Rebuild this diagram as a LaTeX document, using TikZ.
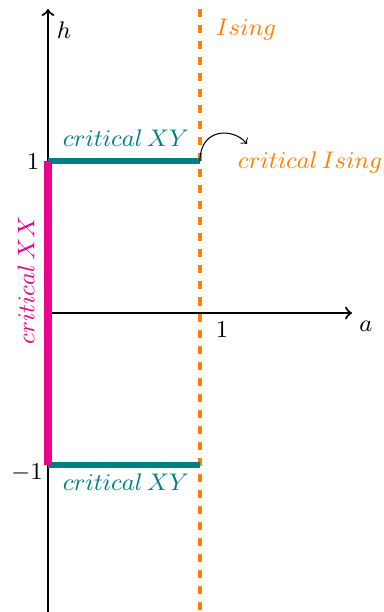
\documentclass[tikz,border=0pt]{standalone}
\usepackage{xcolor}
\definecolor{myteal}{RGB}{0,128,128}
\definecolor{mymag}{RGB}{236,0,140}
\definecolor{myorange}{RGB}{255,128,0}
\begin{document}
\begin{tikzpicture}[x=2cm,y=2cm,
  axis/.style={thick,->},
  xyline/.style={myteal,line width=2.5pt},
  xxline/.style={mymag,line width=3pt},
  isingline/.style={myorange,dashed,line width=1.5pt},
  lbl/.style={inner sep=0pt,font=\fontsize{9.4pt}{11pt}\selectfont}]
\useasboundingbox (-0.3158,-1.967) rectangle (2.2105,2.0592);
\coordinate (O) at (0,0);
\coordinate (Top) at (0,2);
\coordinate (Bot) at (0,-2.1);
\coordinate (Right) at (2,0);
\coordinate (P1) at (0,1);
\coordinate (Pm1) at (0,-1);
\coordinate (Q1) at (1,1);
\coordinate (Qm1) at (1,-1);
\coordinate (Itop) at (1,2);
\coordinate (Ibot) at (1,-2.1);
\coordinate (Aend) at (1.309,1.112);
\draw[isingline] (Itop) -- (Ibot);
\draw[axis] (Bot) -- (Top);
\draw[axis] (O) -- (Right);
\draw[xyline] (P1) -- (Q1);
\draw[xyline] (Pm1) -- (Qm1);
\draw[xxline] (Pm1) -- (P1);
\draw[->] (Q1) .. controls (1,1.22) and (1.22,1.22) .. (Aend);
\node[lbl] (h) at (0.105,1.862) {$h$};
\node[lbl,myorange] (ising) at (1.303,1.862) {$Ising$};
\node[lbl,myteal] (xytop) at (0.513,1.151) {$critical\,XY$};
\node[lbl,myteal] (xybot) at (0.513,-1.112) {$critical\,XY$};
\node[lbl] (one) at (-0.099,0.993) {$1$};
\node[lbl] (mone) at (-0.138,-1.053) {$-1$};
\node[lbl] (onex) at (1.145,-0.112) {$1$};
\node[lbl] (a) at (2.092,-0.086) {$a$};
\node[lbl,myorange] (cising) at (1.724,0.993) {$critical\,Ising$};
\node[lbl,mymag,rotate=90] (xx) at (-0.145,0.217) {$critical\,XX$};
\end{tikzpicture}
\end{document}
